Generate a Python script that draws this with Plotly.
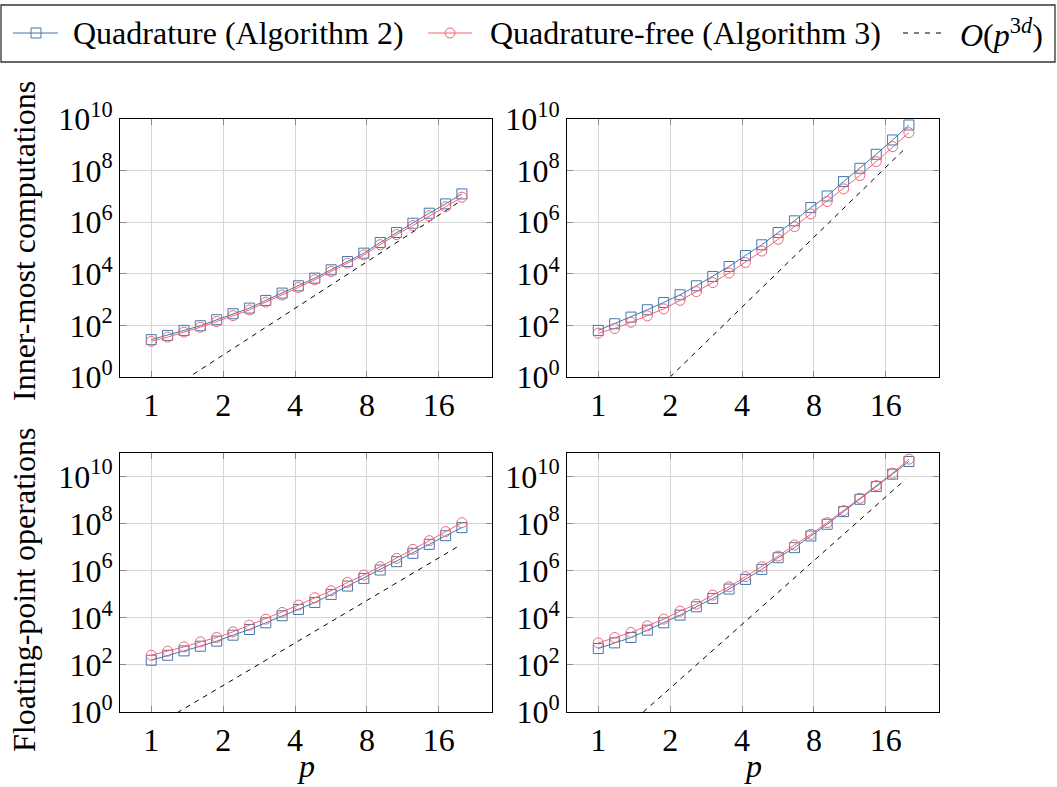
import plotly.graph_objects as go

W, H = 1057, 787

# ---------------- data ----------------
P = [1.0, 1.171, 1.371, 1.605, 1.879, 2.200, 2.576, 3.016, 3.531, 4.134,
     4.840, 5.666, 6.634, 7.767, 9.094, 10.647, 12.466, 14.594, 17.087, 20.0]

# Inner-most computations, d = 2 (top-left)
IC_D2_QUAD = [28, 41, 64, 97, 166, 283, 469, 929, 1.79e3, 3.43e3,
              6.79e3, 1.43e4, 3.00e4, 6.31e4, 1.63e5, 3.98e5, 9.14e5, 2.23e6, 5.13e6, 1.25e7]
IC_D2_FREE = [24, 35, 55, 85, 141, 240, 398, 794, 1.51e3, 2.95e3,
              5.89e3, 1.23e4, 2.57e4, 5.37e4, 1.35e5, 3.31e5, 7.41e5, 1.78e6, 3.98e6, 9.33e6]
# Inner-most computations, d = 3 (top-right)
IC_D3_QUAD = [64, 116, 210, 404, 776, 1.54e3, 3.43e3, 7.89e3, 1.92e4, 5.13e4,
              1.33e5, 3.98e5, 1.13e6, 3.70e6, 1.04e7, 3.75e7, 1.23e8, 4.29e8, 1.54e9, 5.86e9]
IC_D3_FREE = [50, 76, 132, 234, 437, 933, 2.04e3, 4.57e3, 1.07e4, 2.75e4,
              7.59e4, 2.19e5, 6.76e5, 2.09e6, 6.31e6, 1.95e7, 6.46e7, 2.24e8, 8.51e8, 2.95e9]
# Floating-point operations, d = 2 (bottom-left)
FL_D2_QUAD = [158, 258, 394, 622, 1.02e3, 1.83e3, 3.19e3, 6.12e3, 1.22e4, 2.26e4,
              4.49e4, 9.84e4, 2.23e5, 4.72e5, 1.07e6, 2.42e6, 5.47e6, 1.32e7, 3.08e7, 6.76e7]
FL_D2_FREE = [258, 382, 583, 953, 1.46e3, 2.54e3, 4.88e3, 8.77e3, 1.69e4, 3.46e4,
              7.10e4, 1.41e5, 3.19e5, 6.55e5, 1.48e6, 3.35e6, 8.09e6, 1.89e7, 4.57e7, 1.10e8]
# Floating-point operations, d = 3 (bottom-right)
FL_D3_QUAD = [495, 863, 1.46e3, 2.99e3, 6.12e3, 1.30e4, 2.94e4, 6.65e4, 1.66e5, 4.28e5,
              1.14e6, 3.57e6, 9.53e6, 2.99e7, 9.38e7, 3.24e8, 1.08e9, 3.75e9, 1.26e10, 4.35e10]
FL_D3_FREE = [863, 1.46e3, 2.38e3, 4.57e3, 8.77e3, 1.92e4, 3.82e4, 9.23e4, 2.08e5, 5.56e5,
              1.48e6, 4.21e6, 1.24e7, 3.52e7, 1.10e8, 3.57e8, 1.20e9, 4.14e9, 1.39e10, 5.47e10]

# reference O(p^{3d}) lines: d per panel and scaling constant
REF_D = [2, 3, 2, 3]
REF_COEF = [0.112, 0.00195, 0.209, 0.020]
REF_P = [1.0, 19.3]

X_TICKS = [1, 2, 4, 8, 16]
X_TICKTEXT = ["1", "2", "4", "8", "16"]
Y_TICKS = [1, 1e2, 1e4, 1e6, 1e8, 1e10]
Y_TICKTEXT = ["10<sup>0</sup>", "10<sup>2</sup>", "10<sup>4</sup>", "10<sup>6</sup>",
              "10<sup>8</sup>", "10<sup>10</sup>"]

LEGEND_NAMES = ["Quadrature (Algorithm 2)", "Quadrature-free (Algorithm 3)",
                "<i>O</i>(<i>p</i><sup>3<i>d</i></sup>)"]
ROW_TITLES = ["Inner-most computations", "Floating-point operations"]
X_TITLE = "<i>p</i>"

# ---------------- style ----------------
FONT = "Liberation Serif"
FS = 32
BLUE = "#4477AA"
RED = "#EE6677"
GRID = "#d6d6d6"
TICKC = "#8a8a8a"


def fx(x):
    return x / W


def fy(y):
    return 1 - y / H


panels = [
    dict(xpx=(120, 492), ypx=(119, 377), quad=IC_D2_QUAD, free=IC_D2_FREE, yr=[0, 10]),
    dict(xpx=(567, 939), ypx=(119, 377), quad=IC_D3_QUAD, free=IC_D3_FREE, yr=[0, 10]),
    dict(xpx=(120, 492), ypx=(453, 712), quad=FL_D2_QUAD, free=FL_D2_FREE, yr=[0, 11]),
    dict(xpx=(567, 939), ypx=(453, 712), quad=FL_D3_QUAD, free=FL_D3_FREE, yr=[0, 11]),
]

fig = go.Figure()
layout = {}
for i, pn in enumerate(panels):
    sfx = "" if i == 0 else str(i + 1)
    xa, ya = "x" + sfx, "y" + sfx
    ref_y = [REF_COEF[i] * p ** (3 * REF_D[i]) for p in REF_P]
    fig.add_trace(go.Scatter(x=REF_P, y=ref_y, mode="lines", xaxis=xa, yaxis=ya,
                             line=dict(color="black", width=1, dash="5px,5px"),
                             showlegend=False, hoverinfo="skip"))
    fig.add_trace(go.Scatter(x=P, y=pn["quad"], mode="lines+markers", xaxis=xa, yaxis=ya,
                             name=LEGEND_NAMES[0], showlegend=False,
                             line=dict(color=BLUE, width=1),
                             marker=dict(symbol="square-open", size=10,
                                         color=BLUE, line=dict(width=1, color=BLUE))))
    fig.add_trace(go.Scatter(x=P, y=pn["free"], mode="lines+markers", xaxis=xa, yaxis=ya,
                             name=LEGEND_NAMES[1], showlegend=False,
                             line=dict(color=RED, width=1),
                             marker=dict(symbol="circle-open", size=10,
                                         color=RED, line=dict(width=1, color=RED))))
    common = dict(type="log", showgrid=True, gridcolor=GRID, gridwidth=1,
                  showline=True, linecolor="black", linewidth=1, mirror="ticks",
                  ticks="inside", ticklen=6, tickcolor=TICKC, tickwidth=1,
                  zeroline=False, automargin=False,
                  tickfont=dict(family=FONT, size=FS, color="black"))
    layout["xaxis" + sfx] = dict(common, domain=[fx(pn["xpx"][0]), fx(pn["xpx"][1])],
                                 anchor=ya, range=[-0.131, 1.427],
                                 tickvals=X_TICKS, ticktext=X_TICKTEXT)
    layout["yaxis" + sfx] = dict(common, domain=[fy(pn["ypx"][1]), fy(pn["ypx"][0])],
                                 anchor=xa, range=pn["yr"],
                                 tickvals=Y_TICKS, ticktext=Y_TICKTEXT)

annotations = []
shapes = []
# row titles
for txt, yc in zip(ROW_TITLES, [241, 590]):
    annotations.append(dict(text=txt, x=fx(24), y=fy(yc), xref="paper", yref="paper",
                            textangle=-90, showarrow=False, xanchor="center", yanchor="middle",
                            font=dict(family=FONT, size=FS, color="black")))
# x titles
for xc in [306, 753]:
    annotations.append(dict(text=X_TITLE, x=fx(xc), y=fy(766), xref="paper", yref="paper",
                            showarrow=False, xanchor="center", yanchor="middle",
                            font=dict(family=FONT, size=FS, color="black")))

# legend (drawn manually to match full-width box)
LY = 33
shapes.append(dict(type="rect", xref="paper", yref="paper", x0=fx(1), x1=fx(1055),
                   y0=fy(62), y1=fy(5), line=dict(color="#333333", width=1.3)))
# item 1
shapes.append(dict(type="line", xref="paper", yref="paper", x0=fx(13), x1=fx(58),
                   y0=fy(LY), y1=fy(LY), line=dict(color=BLUE, width=1)))
shapes.append(dict(type="rect", xref="paper", yref="paper", x0=fx(31), x1=fx(41),
                   y0=fy(LY + 5), y1=fy(LY - 5), line=dict(color=BLUE, width=1)))
# item 2
shapes.append(dict(type="line", xref="paper", yref="paper", x0=fx(428), x1=fx(472),
                   y0=fy(LY), y1=fy(LY), line=dict(color=RED, width=1)))
shapes.append(dict(type="circle", xref="paper", yref="paper", x0=fx(445), x1=fx(455),
                   y0=fy(LY + 5), y1=fy(LY - 5), line=dict(color=RED, width=1)))
# item 3
shapes.append(dict(type="line", xref="paper", yref="paper", x0=fx(903), x1=fx(941),
                   y0=fy(LY), y1=fy(LY), line=dict(color="black", width=1, dash="5px,6px")))
for txt, xs in zip(LEGEND_NAMES, [71, 488, 958]):
    annotations.append(dict(text=txt, x=fx(xs), y=fy(LY), xref="paper", yref="paper",
                            showarrow=False, xanchor="left", yanchor="middle",
                            font=dict(family=FONT, size=FS, color="black")))

fig.update_layout(**layout)
fig.update_layout(width=W, height=H, autosize=False,
                  margin=dict(l=0, r=0, t=0, b=0, autoexpand=False),
                  paper_bgcolor="white", plot_bgcolor="white",
                  showlegend=False, annotations=annotations, shapes=shapes,
                  font=dict(family=FONT, size=FS, color="black"))

fig.write_html("out.html")
